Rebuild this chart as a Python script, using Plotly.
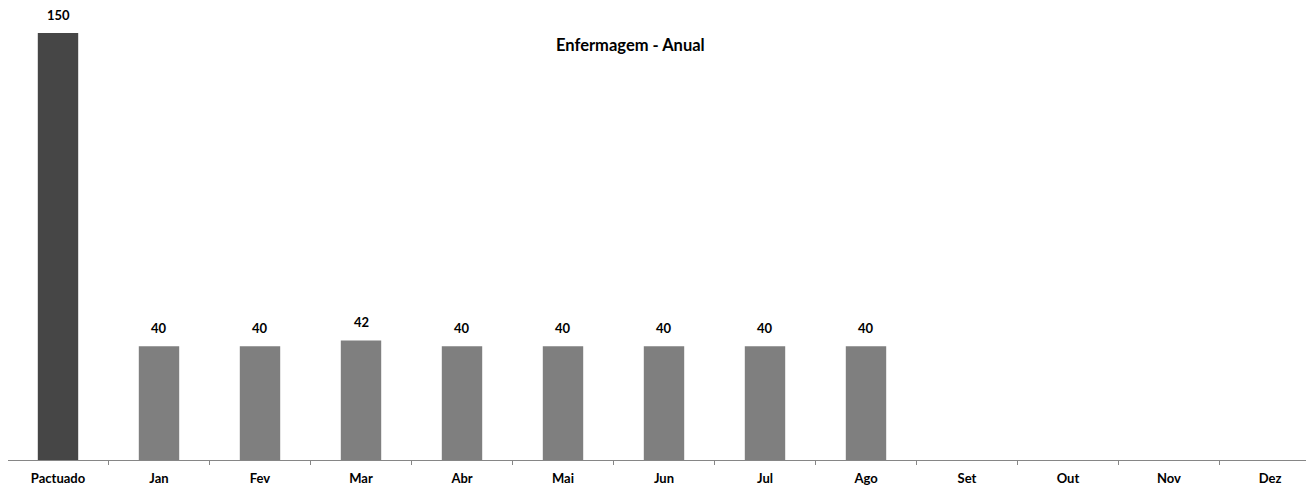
import plotly.graph_objects as go

categories = ["Pactuado", "Jan", "Fev", "Mar", "Abr", "Mai", "Jun", "Jul", "Ago", "Set", "Out", "Nov", "Dez"]
values = [150, 40, 40, 42, 40, 40, 40, 40, 40, None, None, None, None]
title_text = "Enfermagem - Anual"

FONT = "Lato, Open Sans, sans-serif"
colors = ["#464646"] + ["#7f7f7f"] * (len(categories) - 1)

fig = go.Figure(go.Bar(
    x=categories, y=values, marker=dict(color=colors, line=dict(width=0)),
    width=0.4, cliponaxis=False,
))

W, H = 1314, 485
ml, mt, mb = 0, 12, 33
plot_w = W - ml
plot_h = H - mt - mb
step = 101.0
x0 = -(50.0) / step
x1 = x0 + plot_w / step

ann = []
for c, v in zip(categories, values):
    if v is not None:
        ann.append(dict(x=c, y=v, xref="x", yref="y", text=f"<b>{v}</b>", showarrow=False,
                        yanchor="bottom", yshift=8, font=dict(size=13, family=FONT, color="#000")))
ann.append(dict(text=f"<b>{title_text}</b>", xref="paper", yref="paper",
                x=(622 - ml) / plot_w, y=(mt + plot_h - 37) / plot_h,
                xanchor="center", yanchor="middle",
                showarrow=False, font=dict(size=16.5, family=FONT, color="#000")))

fig.update_layout(
    width=W, height=H,
    margin=dict(l=ml, r=0, t=mt, b=mb, autoexpand=False),
    plot_bgcolor="white", paper_bgcolor="white",
    showlegend=False,
    font=dict(family=FONT, size=13, color="#000000"),
    annotations=ann,
    xaxis=dict(
        type="category", range=[x0, x1], tickson="boundaries",
        ticks="outside", ticklen=4, tickcolor="#868686",
        showline=True, linecolor="#868686", linewidth=1,
        tickfont=dict(size=13), showgrid=False, automargin=False,
        ticklabelstandoff=6,
        tickvals=categories, ticktext=[f"<b>{c}</b>" for c in categories],
    ),
    yaxis=dict(range=[0, plot_h / (427 / 150)], visible=False, showgrid=False),
)
fig.write_html("out.html")
